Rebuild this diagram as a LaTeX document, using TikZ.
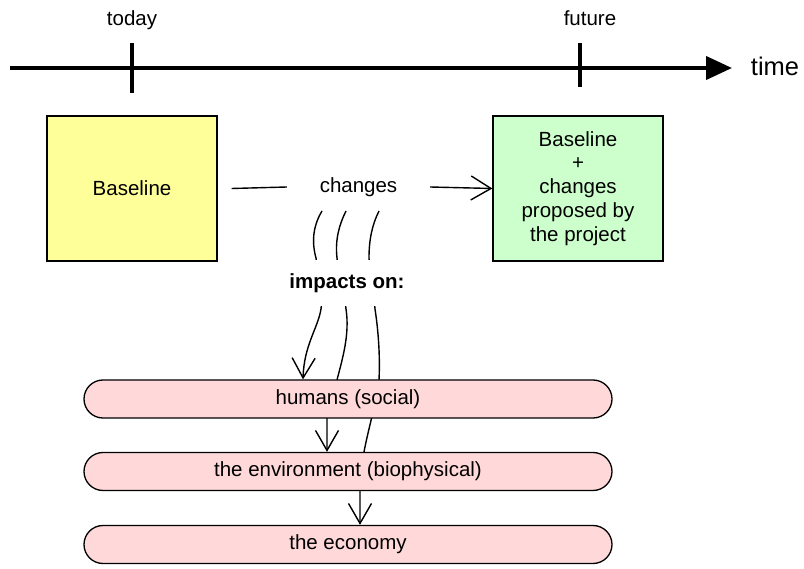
\documentclass[tikz,border=0pt]{standalone}
\usepackage{fontspec}
\setmainfont{Liberation Sans}
\usetikzlibrary{arrows.meta,calc}
\pgfdeclarelayer{bg}
\pgfsetlayers{bg,main}
\definecolor{byellow}{HTML}{FFFF99}
\definecolor{bgreen}{HTML}{CCFFCC}
\definecolor{bpink}{HTML}{FFD9D9}
\begin{document}
\begin{tikzpicture}[x=1pt,y=-1pt,
  every node/.style={font=\fontsize{20.5pt}{23.8pt}\selectfont, inner sep=0pt},
  box/.style={draw, line width=1.3pt, minimum width=170pt, minimum height=145pt, align=center},
  pill/.style={draw, line width=1.3pt, fill=bpink, rounded corners=19pt, minimum width=528pt, minimum height=38pt},
  conn/.style={line width=1.4pt},
  vtip/.style={-{Straight Barb[length=20pt,width=23pt]}},
  thick line/.style={line width=4pt},
]
\useasboundingbox (0,0) rectangle (804,569);

% timeline
\coordinate (tlstart) at (10,68);
\coordinate (tlend) at (732,68);
\node[font=\fontsize{25.5pt}{30pt}\selectfont, anchor=base] (timelbl) at (775,76) {time};
\draw[thick line, -{Triangle[length=26pt,width=23pt]}] (tlstart) -- (tlend);
\coordinate (todaytop) at (132,43);
\coordinate (todaybot) at (132,93);
\coordinate (futtop) at (580,43);
\coordinate (futbot) at (580,87);
\draw[thick line] (todaytop) -- (todaybot);
\draw[thick line] (futtop) -- (futbot);
\node[anchor=base] (today) at (132,26) {today};
\node[anchor=base] (future) at (590,26) {future};

% boxes
\node[box, fill=byellow] (base) at (132,188.5) {Baseline};
\node[box, fill=bgreen] (green) at (578,188.5) {Baseline\\+\\changes\\proposed by\\the project};
\node[minimum width=143pt] (chg) at (358.5,187) {changes};
\draw[conn] ([xshift=14pt]base.east) -- (chg.west);
\draw[conn, -{Straight Barb[length=20pt,width=24pt]}] (chg.east) -- (green.west);

\node[fill=white, minimum width=150pt, minimum height=46pt, font=\fontsize{20.5pt}{24pt}\selectfont\bfseries] (imp) at (347,283) {impacts on:};

\node[pill] (humans) at (348,399) {humans (social)};
\node[pill] (env) at (348,471.5) {the environment (biophysical)};
\node[pill] (econ) at (348,544.5) {the economy};

\coordinate (c1) at (322,211);
\coordinate (c2) at (346,211);
\coordinate (c3) at (379,211);
\coordinate (e1) at (303,0);
\coordinate (e2) at (327,0);
\coordinate (e3) at (360,0);

\begin{pgfonlayer}{bg}
\draw[conn, vtip] (c1) .. controls (314,224) and (311,240) .. (316,258)
  .. controls (318,275) and (323,295) .. (321,309)
  .. controls (318,328) and (304,345) .. (humans.north -| e1);
\draw[conn, vtip] (c2) .. controls (339,225) and (335,240) .. (337,258)
  .. controls (339,280) and (345,295) .. (346,309)
  .. controls (350,335) and (342,360) .. (337,380)
  .. controls (333,395) and (327,405) .. (327,418)
  -- (env.north -| e2);
\draw[conn, vtip] (c3) .. controls (372,225) and (369,240) .. (369,258)
  .. controls (370,280) and (374,295) .. (375,309)
  .. controls (379,335) and (380,360) .. (379,380)
  .. controls (377,400) and (368,430) .. (364,452)
  .. controls (361,470) and (360,480) .. (360,491)
  -- (econ.north -| e3);
\end{pgfonlayer}
\end{tikzpicture}
\end{document}
